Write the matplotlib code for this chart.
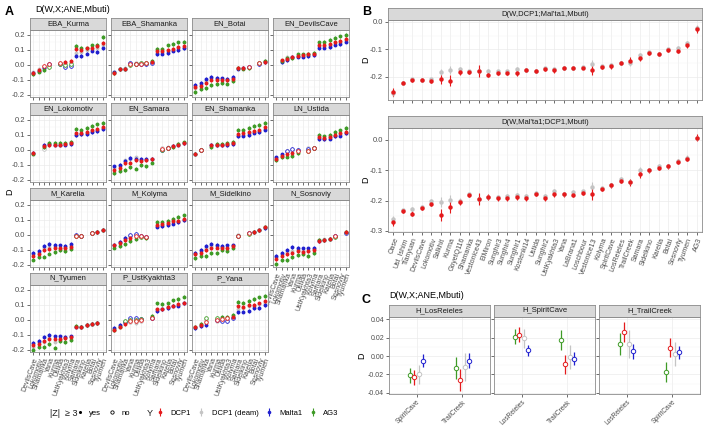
import numpy as np
import matplotlib.pyplot as plt
from matplotlib.ticker import MultipleLocator, FormatStrFormatter
from matplotlib.lines import Line2D

plt.rcParams['font.family'] = ['Liberation Sans', 'DejaVu Sans']
plt.rcParams['axes.unicode_minus'] = False

nan = np.nan

# ---- data -------------------------------------------------------------
series = ['DCP1', 'DCP1 (deam)', 'Malta1', 'AG3']
colors = ['#E41A1C', '#C4C4C4', '#1F1FCF', '#3E9B26']

# panel A: x populations shared by all facets
a_pops = ['DevilsCave', 'Lokomotiv', 'Shamanka', 'Yana', 'Kurma', 'Ustida',
          'UstKyakhta3', 'Kolyma', 'Samara', 'Sidelkino', 'Karelia', 'Botai',
          'Sosnoviy', 'Tyumen']
a_panels = ['EBA_Kurma', 'EBA_Shamanka', 'EN_Botai', 'EN_DevilsCave',
            'EN_Lokomotiv', 'EN_Samara', 'EN_Shamanka', 'LN_Ustida',
            'M_Karelia', 'M_Kolyma', 'M_Sidelkino', 'N_Sosnoviy',
            'N_Tyumen', 'P_UstKyakhta3', 'P_Yana']
se_a = 0.006

# each facet: [DCP1, DCP1 (deam), Malta1, AG3]
EBA_Kurma = [
    [-0.055, -0.035, -0.005, 0.005, nan, 0.010, 0.020, 0.025, 0.105, 0.100, 0.110, 0.110, 0.125, 0.145],
    [-0.050, -0.030, -0.015, 0.000, nan, 0.010, 0.015, 0.020, 0.080, 0.085, 0.100, 0.105, 0.110, 0.130],
    [-0.055, -0.040, -0.020, 0.005, nan, 0.005, -0.015, -0.010, 0.060, 0.060, 0.075, 0.095, 0.085, 0.110],
    [-0.060, -0.045, -0.035, -0.015, nan, 0.005, 0.000, 0.005, 0.125, 0.115, 0.110, 0.130, 0.135, 0.185]]
EBA_Shamanka = [
    [-0.055, -0.030, -0.025, 0.005, 0.005, 0.005, 0.010, 0.020, 0.090, 0.095, 0.100, 0.105, 0.120, 0.125],
    [-0.050, -0.030, -0.020, 0.010, 0.010, 0.010, 0.015, 0.020, 0.080, 0.085, 0.095, 0.100, 0.110, 0.115],
    [-0.050, -0.030, -0.025, 0.010, 0.005, 0.005, 0.005, 0.015, 0.070, 0.075, 0.080, 0.095, 0.100, 0.110],
    [-0.055, -0.030, -0.030, 0.000, 0.005, 0.010, 0.015, 0.025, 0.105, 0.105, 0.130, 0.140, 0.150, 0.155]]
EN_Botai = [
    [-0.150, -0.140, -0.120, -0.100, -0.100, -0.100, -0.100, -0.095, -0.020, -0.020, -0.015, nan, 0.010, 0.020],
    [-0.155, -0.135, -0.110, -0.090, -0.095, -0.095, -0.100, -0.090, -0.020, -0.020, -0.015, nan, 0.010, 0.025],
    [-0.135, -0.120, -0.095, -0.080, -0.085, -0.090, -0.095, -0.080, -0.025, -0.020, -0.015, nan, 0.005, 0.020],
    [-0.180, -0.160, -0.155, -0.135, -0.130, -0.120, -0.125, -0.110, -0.020, -0.025, -0.020, nan, 0.010, 0.025]]
EN_DevilsCave = [
    [nan, 0.030, 0.040, 0.055, 0.060, 0.065, 0.070, 0.075, 0.130, 0.130, 0.140, 0.150, 0.160, 0.175],
    [nan, 0.030, 0.055, 0.055, 0.060, 0.060, 0.065, 0.070, 0.125, 0.125, 0.135, 0.145, 0.150, 0.165],
    [nan, 0.020, 0.030, 0.050, 0.055, 0.055, 0.060, 0.065, 0.110, 0.115, 0.120, 0.135, 0.140, 0.155],
    [nan, 0.025, 0.045, 0.045, 0.070, 0.070, 0.075, 0.080, 0.150, 0.155, 0.165, 0.180, 0.190, 0.200]]
EN_Lokomotiv = [
    [-0.020, nan, 0.025, 0.030, 0.035, 0.035, 0.040, 0.045, 0.110, 0.110, 0.120, 0.130, 0.140, 0.155],
    [-0.025, nan, 0.005, 0.035, 0.035, 0.035, 0.040, 0.045, 0.100, 0.105, 0.115, 0.125, 0.130, 0.145],
    [-0.020, nan, 0.035, 0.040, 0.035, 0.035, 0.035, 0.040, 0.100, 0.105, 0.105, 0.120, 0.125, 0.140],
    [-0.025, nan, 0.020, 0.045, 0.045, 0.045, 0.045, 0.055, 0.140, 0.135, 0.145, 0.160, 0.170, 0.180]]
EN_Samara = [
    [-0.135, -0.120, -0.090, -0.085, -0.070, -0.075, -0.070, -0.060, nan, 0.005, 0.015, 0.025, 0.035, 0.045],
    [-0.120, -0.110, -0.070, -0.060, -0.050, -0.065, -0.065, -0.060, nan, 0.010, 0.020, 0.025, 0.040, 0.045],
    [-0.110, -0.100, -0.075, -0.055, -0.060, -0.060, -0.060, -0.060, nan, 0.000, 0.015, 0.025, 0.035, 0.045],
    [-0.155, -0.140, -0.135, -0.115, -0.125, -0.100, -0.110, -0.085, nan, 0.000, 0.010, 0.020, 0.040, 0.050]]
EN_Shamanka = [
    [-0.025, 0.000, nan, 0.030, 0.035, 0.035, 0.040, 0.045, 0.105, 0.110, 0.120, 0.125, 0.135, 0.150],
    [-0.025, 0.000, nan, 0.030, 0.035, 0.035, 0.035, 0.045, 0.095, 0.100, 0.110, 0.120, 0.125, 0.140],
    [-0.025, 0.000, nan, 0.035, 0.030, 0.030, 0.030, 0.040, 0.090, 0.095, 0.100, 0.115, 0.120, 0.135],
    [-0.025, 0.000, nan, 0.020, 0.040, 0.040, 0.045, 0.055, 0.135, 0.135, 0.145, 0.160, 0.165, 0.180]]
LN_Ustida = [
    [-0.060, -0.040, -0.030, -0.020, -0.010, nan, -0.005, 0.010, 0.085, 0.080, 0.085, 0.100, 0.110, 0.120],
    [-0.055, -0.035, -0.005, 0.000, 0.000, nan, 0.010, 0.010, 0.080, 0.075, 0.085, 0.095, 0.105, 0.115],
    [-0.050, -0.030, -0.010, 0.005, 0.000, nan, 0.005, 0.010, 0.070, 0.070, 0.075, 0.090, 0.095, 0.110],
    [-0.070, -0.050, -0.045, -0.040, -0.020, nan, -0.010, 0.010, 0.100, 0.090, 0.100, 0.120, 0.130, 0.145]]
M_Karelia = [
    [-0.140, -0.130, -0.100, -0.095, -0.085, -0.090, -0.085, -0.080, -0.010, -0.005, nan, 0.010, 0.020, 0.035],
    [-0.130, -0.120, -0.090, -0.080, -0.080, -0.085, -0.085, -0.075, -0.010, -0.010, nan, 0.010, 0.020, 0.035],
    [-0.120, -0.105, -0.075, -0.060, -0.065, -0.070, -0.075, -0.060, 0.000, -0.005, nan, 0.010, 0.020, 0.035],
    [-0.165, -0.150, -0.145, -0.125, -0.115, -0.100, -0.110, -0.095, -0.010, -0.005, nan, 0.010, 0.020, 0.030]]
M_Kolyma = [
    [-0.070, -0.055, -0.035, -0.020, -0.010, -0.010, -0.015, nan, 0.065, 0.070, 0.080, 0.090, 0.095, 0.105],
    [-0.065, -0.050, -0.020, -0.005, 0.000, -0.010, -0.015, nan, 0.060, 0.065, 0.075, 0.085, 0.090, 0.100],
    [-0.065, -0.045, -0.020, 0.000, 0.005, -0.010, -0.015, nan, 0.055, 0.060, 0.065, 0.075, 0.085, 0.100],
    [-0.085, -0.075, -0.060, -0.040, -0.030, -0.015, -0.020, nan, 0.085, 0.085, 0.095, 0.105, 0.120, 0.130]]
M_Sidelkino = [
    [-0.130, -0.120, -0.100, -0.090, -0.085, -0.090, -0.090, -0.075, -0.005, nan, 0.010, 0.020, 0.030, 0.050],
    [-0.125, -0.110, -0.085, -0.075, -0.075, -0.080, -0.085, -0.070, 0.000, nan, 0.010, 0.020, 0.035, 0.050],
    [-0.120, -0.100, -0.075, -0.060, -0.065, -0.075, -0.070, -0.070, -0.005, nan, 0.010, 0.020, 0.030, 0.045],
    [-0.155, -0.140, -0.140, -0.120, -0.120, -0.100, -0.110, -0.090, -0.005, nan, 0.005, 0.020, 0.030, 0.055]]
N_Sosnoviy = [
    [-0.160, -0.140, -0.130, -0.120, -0.110, -0.115, -0.110, -0.100, -0.040, -0.035, -0.025, -0.010, nan, 0.020],
    [-0.150, -0.130, -0.115, -0.105, -0.100, -0.105, -0.105, -0.095, -0.035, -0.030, -0.025, -0.010, nan, 0.020],
    [-0.140, -0.120, -0.100, -0.080, -0.085, -0.090, -0.090, -0.085, -0.040, -0.035, -0.025, -0.010, nan, 0.015],
    [-0.195, -0.170, -0.170, -0.150, -0.135, -0.130, -0.140, -0.120, -0.035, -0.035, -0.030, -0.015, nan, 0.020]]
N_Tyumen = [
    [-0.170, -0.160, -0.140, -0.130, -0.125, -0.130, -0.120, -0.115, -0.045, -0.050, -0.035, -0.025, -0.020, nan],
    [-0.180, -0.150, -0.150, -0.120, -0.145, -0.125, -0.120, -0.115, -0.045, -0.045, -0.035, -0.025, -0.020, nan],
    [-0.155, -0.140, -0.115, -0.100, -0.110, -0.110, -0.115, -0.110, -0.045, -0.045, -0.035, -0.025, -0.020, nan],
    [-0.200, -0.180, -0.180, -0.160, -0.185, -0.140, -0.150, -0.135, -0.040, -0.045, -0.035, -0.025, -0.020, nan]]
P_UstKyakhta3 = [
    [-0.065, -0.045, -0.030, -0.010, -0.005, 0.000, nan, 0.010, 0.070, 0.070, 0.085, 0.095, 0.105, 0.115],
    [-0.065, -0.040, -0.020, -0.015, -0.020, -0.010, nan, 0.015, 0.075, 0.075, 0.085, 0.095, 0.100, 0.110],
    [-0.055, -0.035, -0.015, 0.010, 0.015, 0.005, nan, 0.010, 0.060, 0.070, 0.080, 0.095, 0.095, 0.110],
    [-0.070, -0.045, -0.005, 0.000, 0.000, 0.005, nan, 0.025, 0.110, 0.105, 0.110, 0.130, 0.140, 0.155]]
P_Yana = [
    [-0.050, -0.035, -0.015, nan, 0.000, 0.005, 0.010, 0.020, 0.090, 0.085, 0.100, 0.100, 0.110, 0.125],
    [-0.050, -0.035, 0.000, nan, -0.005, 0.005, 0.005, 0.025, 0.075, 0.080, 0.090, 0.095, 0.105, 0.115],
    [-0.055, -0.040, -0.035, nan, 0.000, -0.005, -0.010, 0.010, 0.050, 0.055, 0.060, 0.080, 0.080, 0.100],
    [-0.045, -0.025, 0.010, nan, 0.015, 0.020, 0.020, 0.035, 0.120, 0.115, 0.125, 0.140, 0.150, 0.160]]
a_values = [EBA_Kurma, EBA_Shamanka, EN_Botai, EN_DevilsCave, EN_Lokomotiv,
            EN_Samara, EN_Shamanka, LN_Ustida, M_Karelia, M_Kolyma,
            M_Sidelkino, N_Sosnoviy, N_Tyumen, P_UstKyakhta3, P_Yana]

# panel B
b_pops = ['Oase', 'Ust_Ishim', 'Tianyuan', 'DevilsCave', 'Lokomotiv', 'Salkhit',
          'Kurma', 'GoyetQ116', 'Shamanka', 'Vestonice43', 'ElMiron', 'Sunghir3',
          'Sunghir4', 'Sunghir1', 'Kostenki14', 'Ustida', 'Sunghir2', 'UstKyakhta3',
          'Yana', 'LaBrana1', 'Loschbour', 'Vestonice13', 'Kolyma', 'SpiritCave',
          'LosReieles', 'TrailCreek', 'Samara', 'Sidelkino', 'Karelia', 'Botai',
          'Sosnoviy', 'Tyumen', 'AG3']
b_titles = ["D(W,DCP1;Mal'ta1,Mbuti)", "D(W,Mal'ta1;DCP1,Mbuti)"]
b1_dcp1 = [-0.257, -0.222, -0.212, -0.213, -0.216, -0.210, -0.216, -0.185, -0.182, -0.178,
           -0.194, -0.188, -0.186, -0.188, -0.176, -0.180, -0.172, -0.177, -0.170, -0.170,
           -0.168, -0.176, -0.166, -0.162, -0.149, -0.142, -0.133, -0.113, -0.119, -0.103,
           -0.105, -0.085, -0.027]
b1_deam = [-0.262, -0.222, -0.210, -0.213, -0.210, -0.185, -0.176, -0.172, -0.180, -0.178,
           -0.178, -0.180, -0.180, -0.172, -0.176, -0.180, -0.170, -0.172, -0.170, -0.168,
           -0.166, -0.154, -0.163, -0.158, -0.150, -0.152, -0.121, -0.112, -0.117, -0.100,
           -0.097, -0.076, -0.022]
b1_err = [0.014, 0.007, 0.007, 0.006, 0.007, 0.017, 0.020, 0.009, 0.007, 0.022,
          0.009, 0.007, 0.007, 0.010, 0.007, 0.007, 0.007, 0.009, 0.007, 0.007,
          0.006, 0.018, 0.007, 0.009, 0.007, 0.012, 0.011, 0.007, 0.007, 0.007,
          0.009, 0.009, 0.013]
b2_dcp1 = [-0.271, -0.235, -0.244, -0.224, -0.211, -0.248, -0.221, -0.205, -0.182, -0.195,
           -0.189, -0.193, -0.193, -0.190, -0.193, -0.178, -0.193, -0.178, -0.180, -0.182,
           -0.175, -0.178, -0.162, -0.150, -0.135, -0.140, -0.113, -0.100, -0.092, -0.087,
           -0.072, -0.062, 0.008]
b2_deam = [-0.262, -0.232, -0.227, -0.222, -0.200, -0.204, -0.197, -0.200, -0.180, -0.195,
           -0.189, -0.188, -0.186, -0.182, -0.184, -0.175, -0.184, -0.170, -0.178, -0.172,
           -0.170, -0.155, -0.160, -0.150, -0.128, -0.140, -0.098, -0.100, -0.085, -0.085,
           -0.070, -0.058, 0.008]
b2_err = [0.014, 0.007, 0.008, 0.007, 0.008, 0.020, 0.020, 0.010, 0.007, 0.020,
          0.010, 0.008, 0.008, 0.009, 0.008, 0.007, 0.008, 0.009, 0.007, 0.008,
          0.007, 0.020, 0.008, 0.008, 0.008, 0.012, 0.011, 0.008, 0.008, 0.008,
          0.008, 0.009, 0.012]

# panel C
c_facets = ['H_LosReieles', 'H_SpiritCave', 'H_TrailCreek']
c_x = [['SpiritCave', 'TrailCreek'], ['LosReieles', 'TrailCreek'], ['LosReieles', 'SpiritCave']]
c_ag3 = [[-0.021, -0.013], [0.021, 0.017], [0.013, -0.017]]
c_dcp1 = [[-0.023, -0.026], [0.023, -0.009], [0.026, 0.009]]
c_deam = [[-0.020, -0.012], [0.019, -0.001], [0.013, 0.002]]
c_malta1 = [[-0.005, -0.005], [0.006, -0.003], [0.005, 0.004]]
c_ag3_err = [[0.008, 0.012], [0.008, 0.011], [0.012, 0.011]]
c_dcp1_err = [[0.008, 0.012], [0.008, 0.010], [0.011, 0.010]]
c_deam_err = [[0.010, 0.015], [0.010, 0.013], [0.015, 0.013]]
c_malta1_err = [[0.007, 0.008], [0.006, 0.007], [0.008, 0.007]]

# ---- layout helpers --------------------------------------------------
W, H = 708, 426
fig = plt.figure(figsize=(W / 100, H / 100), dpi=100)

TXT = '#4D4D4D'
BORDER = '#8C8C8C'
FS = 5.5


def px_axes(left, top, width, height):
    return fig.add_axes([left / W, 1 - (top + height) / H, width / W, height / H])


def style(ax, size=FS):
    for s in ax.spines.values():
        s.set_color(BORDER)
        s.set_linewidth(0.6)
    ax.tick_params(which='major', length=2, width=0.5, color='#333333',
                   labelsize=size, labelcolor=TXT, pad=1.5)
    ax.tick_params(which='minor', length=0)
    ax.grid(which='major', color='#EBEBEB', lw=0.5)
    ax.grid(which='minor', axis='y', color='#F3F3F3', lw=0.35)
    ax.set_axisbelow(True)


def strip(left, top, width, height, label):
    s = px_axes(left, top, width, height)
    s.set_facecolor('#D9D9D9')
    s.set_xticks([])
    s.set_yticks([])
    for sp in s.spines.values():
        sp.set_color(BORDER)
        sp.set_linewidth(0.6)
    s.text(0.5, 0.5, label, ha='center', va='center', fontsize=FS, color='#1A1A1A')


# ---- panel A -----------------------------------------------------------
a_left = [30, 111, 192, 273]
a_top = [30, 115, 200, 285]
a_w, a_h, a_strip = 76, 67, 12
xa = np.arange(1, len(a_pops) + 1)

for k, (name, vals) in enumerate(zip(a_panels, a_values)):
    r, c = divmod(k, 4)
    ax = px_axes(a_left[c], a_top[r], a_w, a_h)
    strip(a_left[c], a_top[r] - a_strip, a_w, a_strip, name)
    for si in [1, 2, 3, 0]:
        y = np.array(vals[si], dtype=float)
        ax.errorbar(xa, y, yerr=2 * se_a, fmt='none', ecolor=colors[si], elinewidth=0.5)
        sig = np.abs(y) / se_a >= 3
        ax.plot(xa[sig], y[sig], 'o', color=colors[si], ms=2.8, mew=0)
        ax.plot(xa[~sig], y[~sig], 'o', mfc='white', mec=colors[si], ms=2.6, mew=0.6)
    ax.set_xlim(0.4, len(a_pops) + 0.6)
    ax.set_ylim(-0.215, 0.233)
    ax.set_xticks(xa)
    ax.set_yticks([-0.2, -0.1, 0.0, 0.1, 0.2])
    ax.yaxis.set_minor_locator(MultipleLocator(0.05))
    ax.yaxis.set_major_formatter(FormatStrFormatter('%.1f'))
    style(ax)
    if k + 4 >= len(a_panels):
        ax.set_xticklabels(a_pops, rotation=70, ha='right', rotation_mode='anchor', fontsize=5)
    else:
        ax.set_xticklabels([])
    if c != 0:
        ax.set_yticklabels([])

fig.text(5 / W, 1 - 12 / H, 'A', fontsize=9, fontweight='bold', va='center')
fig.text(35 / W, 1 - 9 / H, 'D(W,X;ANE,Mbuti)', fontsize=6.5, va='center')
fig.text(10 / W, 1 - 192 / H, 'D', fontsize=6.5, rotation=90, va='center', ha='center')

# ---- panel B -----------------------------------------------------------
xb = np.arange(1, len(b_pops) + 1)
b_sets = [(b1_dcp1, b1_deam, b1_err), (b2_dcp1, b2_deam, b2_err)]
b_tops = [20, 128]
b_heights = [80, 104]
b_ylims = [(-0.286, 0.007), (-0.304, 0.0396)]
b_ticks = [[-0.2, -0.1, 0.0], [-0.3, -0.2, -0.1, 0.0]]
for i, (dcp1, deam, err) in enumerate(b_sets):
    ax = px_axes(388, b_tops[i], 314, b_heights[i])
    strip(388, b_tops[i] - 12, 314, 12, b_titles[i])
    ax.errorbar(xb, deam, yerr=np.array(err) * 0.8, fmt='o', color=colors[1],
                ms=3.2, mew=0, elinewidth=0.8)
    ax.errorbar(xb, dcp1, yerr=err, fmt='o', color=colors[0],
                ms=3.2, mew=0, elinewidth=0.8)
    ax.set_xlim(0.44, len(b_pops) + 0.56)
    ax.set_ylim(*b_ylims[i])
    ax.set_xticks(xb)
    ax.set_yticks(b_ticks[i])
    ax.yaxis.set_minor_locator(MultipleLocator(0.05))
    ax.yaxis.set_major_formatter(FormatStrFormatter('%.1f'))
    style(ax)
    if i == 1:
        ax.set_xticklabels(b_pops, rotation=70, ha='right', rotation_mode='anchor', fontsize=5)
    else:
        ax.set_xticklabels([])
    fig.text(366 / W, 1 - (b_tops[i] + b_heights[i] / 2) / H, 'D', fontsize=6.5,
             rotation=90, va='center', ha='center')

fig.text(362 / W, 1 - 12 / H, 'B', fontsize=9, fontweight='bold', va='center')

# ---- panel C -----------------------------------------------------------
c_left = [389, 494, 599]
c_series = [(c_ag3, c_ag3_err, colors[3]), (c_dcp1, c_dcp1_err, colors[0]),
            (c_deam, c_deam_err, colors[1]), (c_malta1, c_malta1_err, colors[2])]
offsets = [-0.145, -0.05, 0.05, 0.145]
xc = np.array([1, 2])
for j, facet in enumerate(c_facets):
    ax = px_axes(c_left[j], 317, 101, 77)
    strip(c_left[j], 305, 101, 12, facet)
    for (vals, errs, col), off in zip(c_series, offsets):
        ax.errorbar(xc + off, vals[j], yerr=errs[j], fmt='o', color=col, mfc='white',
                    mec=col, ms=3.2, mew=0.7, elinewidth=0.9)
    ax.set_xlim(0.4, 2.6)
    ax.set_ylim(-0.0411, 0.0422)
    ax.set_xticks(xc)
    ax.set_yticks([-0.04, -0.02, 0.0, 0.02, 0.04])
    ax.yaxis.set_minor_locator(MultipleLocator(0.01))
    ax.yaxis.set_major_formatter(FormatStrFormatter('%.2f'))
    style(ax, size=5)
    ax.set_xticklabels(c_x[j], rotation=45, ha='right', rotation_mode='anchor', fontsize=4.8)
    if j != 0:
        ax.set_yticklabels([])

fig.text(362 / W, 1 - 300 / H, 'C', fontsize=9, fontweight='bold', va='center')
fig.text(389 / W, 1 - 295 / H, 'D(W,X;ANE,Mbuti)', fontsize=6.5, va='center')
fig.text(362 / W, 1 - 356 / H, 'D', fontsize=6.5, rotation=90, va='center', ha='center')

# ---- legend -------------------------------------------------------------
ly = 1 - 413 / H
fig.text(50 / W, ly, '|Z|  \u2265 3', fontsize=6.5, va='center', color='#1A1A1A')
z_handles = [Line2D([], [], ls='none', marker='o', color='black', ms=2.2, mew=0),
             Line2D([], [], ls='none', marker='o', mfc='white', mec='black', ms=2.4, mew=0.6)]
fig.legend(z_handles, ['yes', 'no'], loc='center left', bbox_to_anchor=(77 / W, ly),
           ncol=2, frameon=False, fontsize=FS, handlelength=0.8, handletextpad=0.8,
           columnspacing=1.0, borderpad=0, borderaxespad=0)

fig.text(147 / W, ly, 'Y', fontsize=6.5, va='center', color='#1A1A1A')
leg_ax = fig.add_axes([0, 0, 0.001, 0.001])
leg_ax.set_axis_off()
y_handles = [leg_ax.errorbar([0], [0], yerr=[1], fmt='o', color=col, ms=2.6, mew=0,
                             elinewidth=0.8) for col in colors]
fig.legend(y_handles, series, loc='center left', bbox_to_anchor=(157 / W, ly),
           ncol=4, frameon=False, fontsize=FS, handlelength=0.9, handletextpad=0.9,
           columnspacing=0.9, borderpad=0, borderaxespad=0)

fig.savefig('out.png', dpi=100)
